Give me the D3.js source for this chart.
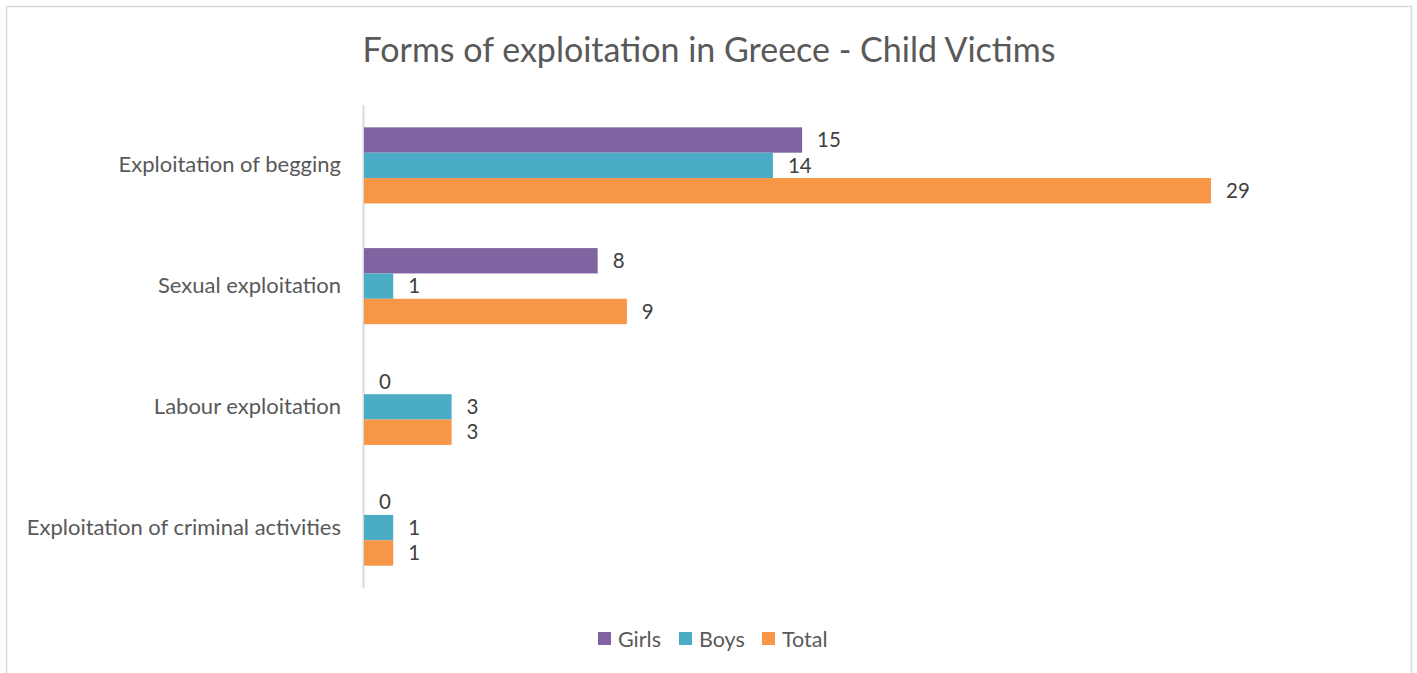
<!DOCTYPE html>
<html><head><meta charset="utf-8">
<script src="https://cdn.jsdelivr.net/npm/d3@7"></script>
<style>body{margin:0;background:#fff;} svg{display:block;font-family:Lato, "Open Sans", sans-serif;}</style>
</head><body>
<svg id="c" width="1417" height="673"></svg>
<script>
const categories = ["Exploitation of begging","Sexual exploitation","Labour exploitation","Exploitation of criminal activities"];
const seriesNames = ["Girls","Boys","Total"];
const girls = [15, 8, 0, 0];
const boys = [14, 1, 3, 1];
const total = [29, 9, 3, 1];
const colors = ["#8064A2","#4BACC6","#F79646"];
const seriesValues = [girls, boys, total];

const svg = d3.select("#c");
svg.append("rect").attr("x",6.5).attr("y",6.5).attr("width",1405).attr("height",700)
  .attr("fill","#fff").attr("stroke","#d9d9d9").attr("stroke-width",1.5);

svg.append("text").attr("x",709).attr("y",62).attr("text-anchor","middle")
  .attr("font-size",34).attr("fill","#595959").text("Forms of exploitation in Greece - Child Victims");

const x = d3.scaleLinear().domain([0,29]).range([363,1210]);
const y = d3.scaleBand().domain(categories).range([105,588]).paddingInner(0.37).paddingOuter(0.185);
const ys = d3.scaleBand().domain(seriesNames).range([0,y.bandwidth()]);

const yAxis = d3.axisLeft(y).tickSize(0).tickPadding(22);
const ga = svg.append("g").attr("transform","translate(363,0)").call(yAxis);
ga.select(".domain").attr("stroke","#d9d9d9").attr("stroke-width",2);
ga.selectAll("text").attr("font-size",22).attr("fill","#595959").attr("font-family","Lato, sans-serif");

categories.forEach((c,i)=>{
  const g = svg.append("g").attr("transform",`translate(0,${y(c)})`);
  seriesNames.forEach((s,j)=>{
    const v = seriesValues[j][i];
    g.append("rect").attr("x",x(0)+1).attr("y",ys(s)).attr("width",Math.max(0,x(v)-x(0)))
      .attr("height",ys.bandwidth()).attr("fill",colors[j]);
    g.append("text").attr("x",x(v)+16).attr("y",ys(s)+ys.bandwidth()/2).attr("dy","0.35em")
      .attr("font-size",20.5).attr("fill","#404040").text(v);
  });
});

const legend = svg.append("g");
const lx = [598,679,762];
seriesNames.forEach((s,j)=>{
  legend.append("rect").attr("x",lx[j]).attr("y",632).attr("width",13).attr("height",13).attr("fill",colors[j]);
  legend.append("text").attr("x",lx[j]+20).attr("y",639).attr("dy","0.35em")
    .attr("font-size",21.5).attr("fill","#595959").text(s);
});
</script>
</body></html>
